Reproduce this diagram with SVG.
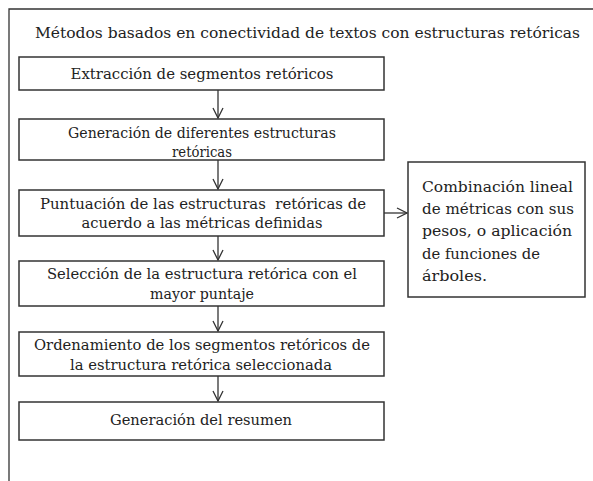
<svg xmlns="http://www.w3.org/2000/svg" width="593" height="481" viewBox="0 0 593 481">
<style>
.box{fill:#fff;stroke:#333;stroke-width:1.5}
.c{text-anchor:middle}
.ln{stroke:#333;stroke-width:1.3;fill:none}
</style>
<defs>
<marker id="ah" viewBox="0 0 12 12" refX="11" refY="6" markerWidth="12" markerHeight="12" markerUnits="userSpaceOnUse" orient="auto">
<path d="M1,1 L11,6 L1,11" fill="none" stroke="#333" stroke-width="1.3"/>
</marker>
</defs>
<rect width="593" height="481" fill="#fff"/>
<g font-family="DejaVu Serif, Liberation Serif, serif" font-size="15" fill="#222">
<g id="frame">
<path class="ln" d="M9,481 V9 H593"/>
<text x="35" y="38" textLength="545" lengthAdjust="spacingAndGlyphs">Métodos basados en conectividad de textos con estructuras retóricas</text>
</g>
<g id="connectors">
<line class="ln" x1="218" y1="90" x2="218" y2="118" marker-end="url(#ah)"/>
<line class="ln" x1="218" y1="160" x2="218" y2="189" marker-end="url(#ah)"/>
<line class="ln" x1="218" y1="236" x2="218" y2="260" marker-end="url(#ah)"/>
<line class="ln" x1="218" y1="306" x2="218" y2="331" marker-end="url(#ah)"/>
<line class="ln" x1="218" y1="376" x2="218" y2="401" marker-end="url(#ah)"/>
<line class="ln" x1="384" y1="213" x2="407" y2="213" marker-end="url(#ah)"/>
</g>
<g id="n1">
<rect class="box" x="19" y="57" width="365" height="33"/>
<text class="c" x="202" y="79" textLength="263" lengthAdjust="spacingAndGlyphs">Extracción de segmentos retóricos</text>
</g>
<g id="n2">
<rect class="box" x="19" y="119" width="365" height="41"/>
<text class="c" x="202" y="138" textLength="268" lengthAdjust="spacingAndGlyphs">Generación de diferentes estructuras</text>
<text class="c" x="202" y="157" textLength="60" lengthAdjust="spacingAndGlyphs">retóricas</text>
</g>
<g id="n3">
<rect class="box" x="19" y="190" width="365" height="46"/>
<text class="c" x="203" y="209" textLength="326" lengthAdjust="spacingAndGlyphs" xml:space="preserve">Puntuación de las estructuras  retóricas de</text>
<text class="c" x="202" y="228" textLength="241" lengthAdjust="spacingAndGlyphs">acuerdo a las métricas definidas</text>
</g>
<g id="n4">
<rect class="box" x="19" y="261" width="365" height="45"/>
<text class="c" x="202" y="279" textLength="310" lengthAdjust="spacingAndGlyphs">Selección de la estructura retórica con el</text>
<text class="c" x="202" y="299" textLength="104" lengthAdjust="spacingAndGlyphs">mayor puntaje</text>
</g>
<g id="n5">
<rect class="box" x="19" y="332" width="365" height="44"/>
<text class="c" x="202" y="350" textLength="336" lengthAdjust="spacingAndGlyphs">Ordenamiento de los segmentos retóricos de</text>
<text class="c" x="201" y="370" textLength="262" lengthAdjust="spacingAndGlyphs">la estructura retórica seleccionada</text>
</g>
<g id="n6">
<rect class="box" x="19" y="402" width="365" height="38"/>
<text class="c" x="201" y="425" textLength="182" lengthAdjust="spacingAndGlyphs">Generación del resumen</text>
</g>
<g id="n7">
<rect class="box" x="408" y="162" width="177" height="135"/>
<text x="422" y="192" textLength="151" lengthAdjust="spacingAndGlyphs">Combinación lineal</text>
<text x="422" y="214" textLength="152" lengthAdjust="spacingAndGlyphs">de métricas con sus</text>
<text x="422" y="236" textLength="150" lengthAdjust="spacingAndGlyphs">pesos, o aplicación</text>
<text x="422" y="259" textLength="118" lengthAdjust="spacingAndGlyphs">de funciones de</text>
<text x="422" y="281" textLength="65" lengthAdjust="spacingAndGlyphs">árboles.</text>
</g>
</g>
</svg>
